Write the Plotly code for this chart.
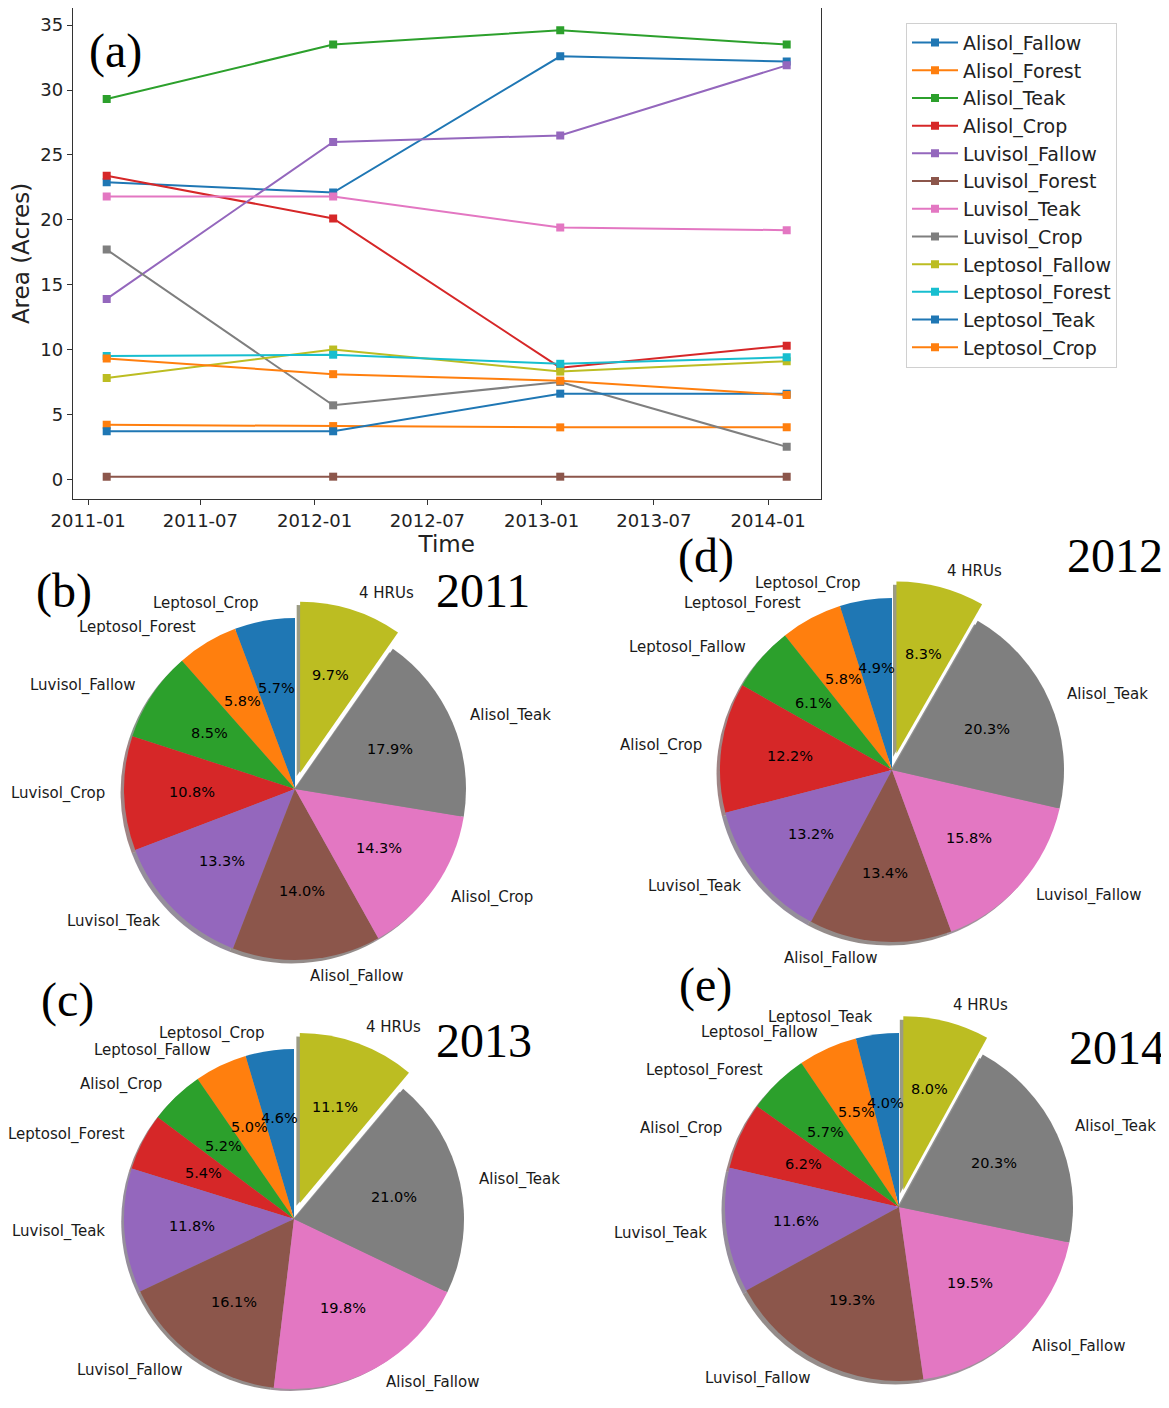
import math
from datetime import datetime
import plotly.graph_objects as go

W, H = 1169, 1408          # browser window
OX, OY = 8, 8              # default page margin of the html body
FW, FH = W - OX, H - OY    # figure size


def px2x(px):
    return min(1.0, max(0.0, (px - OX) / FW))


def py2y(py):
    return min(1.0, max(0.0, 1 - (py - OY) / FH))


# ---------------- line chart data (a) ----------------
dates = ["2011-01-31", "2012-01-31", "2013-01-31", "2014-01-31"]
series_names = ["Alisol_Fallow", "Alisol_Forest", "Alisol_Teak", "Alisol_Crop",
                "Luvisol_Fallow", "Luvisol_Forest", "Luvisol_Teak", "Luvisol_Crop",
                "Leptosol_Fallow", "Leptosol_Forest", "Leptosol_Teak", "Leptosol_Crop"]
Alisol_Fallow = [22.9, 22.1, 32.6, 32.2]
Alisol_Forest = [4.2, 4.1, 4.0, 4.0]
Alisol_Teak = [29.3, 33.5, 34.6, 33.5]
Alisol_Crop = [23.4, 20.1, 8.6, 10.3]
Luvisol_Fallow = [13.9, 26.0, 26.5, 31.9]
Luvisol_Forest = [0.2, 0.2, 0.2, 0.2]
Luvisol_Teak = [21.8, 21.8, 19.4, 19.2]
Luvisol_Crop = [17.7, 5.7, 7.5, 2.5]
Leptosol_Fallow = [7.8, 10.0, 8.3, 9.1]
Leptosol_Forest = [9.5, 9.6, 8.9, 9.4]
Leptosol_Teak = [3.7, 3.7, 6.6, 6.6]
Leptosol_Crop = [9.3, 8.1, 7.6, 6.5]
series_values = [Alisol_Fallow, Alisol_Forest, Alisol_Teak, Alisol_Crop,
                 Luvisol_Fallow, Luvisol_Forest, Luvisol_Teak, Luvisol_Crop,
                 Leptosol_Fallow, Leptosol_Forest, Leptosol_Teak, Leptosol_Crop]

x_tick_vals = ["2011-01-01", "2011-07-01", "2012-01-01", "2012-07-01",
               "2013-01-01", "2013-07-01", "2014-01-01"]
x_tick_text = ["2011-01", "2011-07", "2012-01", "2012-07", "2013-01", "2013-07", "2014-01"]
y_tick_vals = [0, 5, 10, 15, 20, 25, 30, 35]

# ---------------- pie data (b)-(e) ----------------
pie_labels_2011 = ["Leptosol_Crop", "Leptosol_Forest", "Luvisol_Fallow", "Luvisol_Crop",
                   "Luvisol_Teak", "Alisol_Fallow", "Alisol_Crop", "Alisol_Teak", "4 HRUs"]
pie_pct_2011 = [5.7, 5.8, 8.5, 10.8, 13.3, 14.0, 14.3, 17.9, 9.7]
pie_labels_2012 = ["Leptosol_Crop", "Leptosol_Forest", "Leptosol_Fallow", "Alisol_Crop",
                   "Luvisol_Teak", "Alisol_Fallow", "Luvisol_Fallow", "Alisol_Teak", "4 HRUs"]
pie_pct_2012 = [4.9, 5.8, 6.1, 12.2, 13.2, 13.4, 15.8, 20.3, 8.3]
pie_labels_2013 = ["Leptosol_Crop", "Leptosol_Fallow", "Alisol_Crop", "Leptosol_Forest",
                   "Luvisol_Teak", "Luvisol_Fallow", "Alisol_Fallow", "Alisol_Teak", "4 HRUs"]
pie_pct_2013 = [4.6, 5.0, 5.2, 5.4, 11.8, 16.1, 19.8, 21.0, 11.1]
pie_labels_2014 = ["Leptosol_Teak", "Leptosol_Fallow", "Leptosol_Forest", "Alisol_Crop",
                   "Luvisol_Teak", "Luvisol_Fallow", "Alisol_Fallow", "Alisol_Teak", "4 HRUs"]
pie_pct_2014 = [4.0, 5.5, 5.7, 6.2, 11.6, 19.3, 19.5, 20.3, 8.0]
pie_pull = [0, 0, 0, 0, 0, 0, 0, 0, 0.1]

tab10 = ["#1f77b4", "#ff7f0e", "#2ca02c", "#d62728", "#9467bd",
         "#8c564b", "#e377c2", "#7f7f7f", "#bcbd22", "#17becf"]
line_colors = [tab10[i % 10] for i in range(12)]
pie_colors = tab10[:9]

fig = go.Figure()

# ---------------- line chart ----------------
for name, vals, col in zip(series_names, series_values, line_colors):
    fig.add_trace(go.Scatter(
        x=dates, y=vals, name=name, mode="lines+markers",
        line=dict(color=col, width=2),
        marker=dict(symbol="square", size=8, color=col),
        xaxis="x", yaxis="y"))

d0 = datetime.strptime(dates[0], "%Y-%m-%d")
d1 = datetime.strptime(dates[-1], "%Y-%m-%d")
xmarg = (d1 - d0) * 0.05
all_vals = [v for s in series_values for v in s]
ymin, ymax = min(all_vals), max(all_vals)
ymarg = (ymax - ymin) * 0.05

axis_font = dict(family="DejaVu Sans", size=18, color="#222")
fig.update_layout(
    xaxis=dict(domain=[px2x(72.7), px2x(820.7)], type="date",
               range=[(d0 - xmarg).strftime("%Y-%m-%d %H:%M"), (d1 + xmarg).strftime("%Y-%m-%d %H:%M")],
               tickvals=x_tick_vals, ticktext=x_tick_text, ticks="outside", ticklen=5,
               tickcolor="#333", showline=True, linecolor="#333", linewidth=1, mirror=True,
               showgrid=False, zeroline=False, tickfont=axis_font, automargin=False,
               title=dict(text="Time", font=dict(family="DejaVu Sans", size=23, color="#222"), standoff=4),
               anchor="y"),
    yaxis=dict(domain=[py2y(499), py2y(8)], range=[ymin - ymarg, ymax + ymarg],
               tickvals=y_tick_vals, ticks="outside", ticklen=5, tickcolor="#333",
               showline=True, linecolor="#333", linewidth=1, mirror=True,
               showgrid=False, zeroline=False, tickfont=axis_font, automargin=False,
               title=dict(text="Area (Acres)", font=dict(family="DejaVu Sans", size=23, color="#222"), standoff=6),
               anchor="x"),
)

# ---------------- pies ----------------
pies = [
    (pie_labels_2011, pie_pct_2011, (295, 789, 171)),
    (pie_labels_2012, pie_pct_2012, (892, 770, 172)),
    (pie_labels_2013, pie_pct_2013, (294, 1219, 170)),
    (pie_labels_2014, pie_pct_2014, (899, 1207, 174)),
]


def shadow_col(hx):
    r, g, b = int(hx[1:3], 16), int(hx[3:5], 16), int(hx[5:7], 16)
    return "rgba(%d,%d,%d,0.5)" % (0.3 * r, 0.3 * g, 0.3 * b)


annotations = []
maxpull = max(pie_pull)
for labels, pcts, (cx, cy, R) in pies:
    hb = R * (1 + maxpull)
    total = sum(pcts)
    # plotly's counterclockwise pies put the first slice right of 12 o'clock;
    # rotate so that the first slice starts at 12 o'clock going counterclockwise
    rot = -360.0 * pcts[0] / total
    for dx, dy, cols in [(-0.02 * R, 0.02 * R, [shadow_col(c) for c in pie_colors]), (0, 0, pie_colors)]:
        ccx, ccy = cx + dx, cy + dy
        fig.add_trace(go.Pie(
            labels=labels, values=pcts, sort=False, direction="counterclockwise", rotation=rot,
            pull=pie_pull, textinfo="none", hoverinfo="label+percent", showlegend=False,
            marker=dict(colors=cols, line=dict(width=0)),
            domain=dict(x=[px2x(ccx - hb), px2x(ccx + hb)],
                        y=[py2y(ccy + hb), py2y(ccy - hb)])))
    cum = 0.0
    for lab, p, pl in zip(labels, pcts, pie_pull):
        t1 = 90 + 360 * cum / total
        cum += p
        t2 = 90 + 360 * cum / total
        tm = math.radians((t1 + t2) / 2)
        wx = cx + pl * R * math.cos(tm)
        wy = cy - pl * R * math.sin(tm)
        lx = wx + 1.1 * R * math.cos(tm)
        ly = wy - 1.1 * R * math.sin(tm)
        annotations.append(dict(x=px2x(lx), y=py2y(ly), xref="paper", yref="paper", text=lab,
                                showarrow=False, xanchor="left" if lx - cx > 0 else "right",
                                yanchor="middle",
                                font=dict(family="DejaVu Sans", size=15, color="#1a1a1a")))
        ptx = wx + 0.6 * R * math.cos(tm)
        pty = wy - 0.6 * R * math.sin(tm)
        annotations.append(dict(x=px2x(ptx), y=py2y(pty), xref="paper", yref="paper",
                                text="%.1f%%" % p, showarrow=False, xanchor="center", yanchor="middle",
                                font=dict(family="DejaVu Sans", size=14.5, color="#000")))

panel_texts = [("(a)", 115, 51), ("(b)", 64, 591), ("2011", 483, 591), ("(d)", 706, 556),
               ("2012", 1115, 555), ("(c)", 67, 1000), ("2013", 484, 1040), ("(e)", 705, 985),
               ("2014", 1117, 1047)]
for t, x, y in panel_texts:
    annotations.append(dict(x=px2x(x), y=py2y(y), xref="paper", yref="paper", text=t, showarrow=False,
                            xanchor="center", yanchor="middle",
                            font=dict(family="Liberation Serif", size=48, color="#000")))

fig.update_layout(
    template="none",
    width=FW, height=FH,
    margin=dict(l=0, r=0, t=0, b=0, autoexpand=False),
    paper_bgcolor="white", plot_bgcolor="white",
    annotations=annotations,
    showlegend=True,
    legend=dict(x=px2x(906), y=py2y(22.7), xanchor="left", yanchor="top",
                bgcolor="white", bordercolor="#d0d0d0", borderwidth=1, itemwidth=46,
                font=dict(family="DejaVu Sans", size=19, color="#222"), tracegroupgap=0),
)

fig.write_html("out.html")
